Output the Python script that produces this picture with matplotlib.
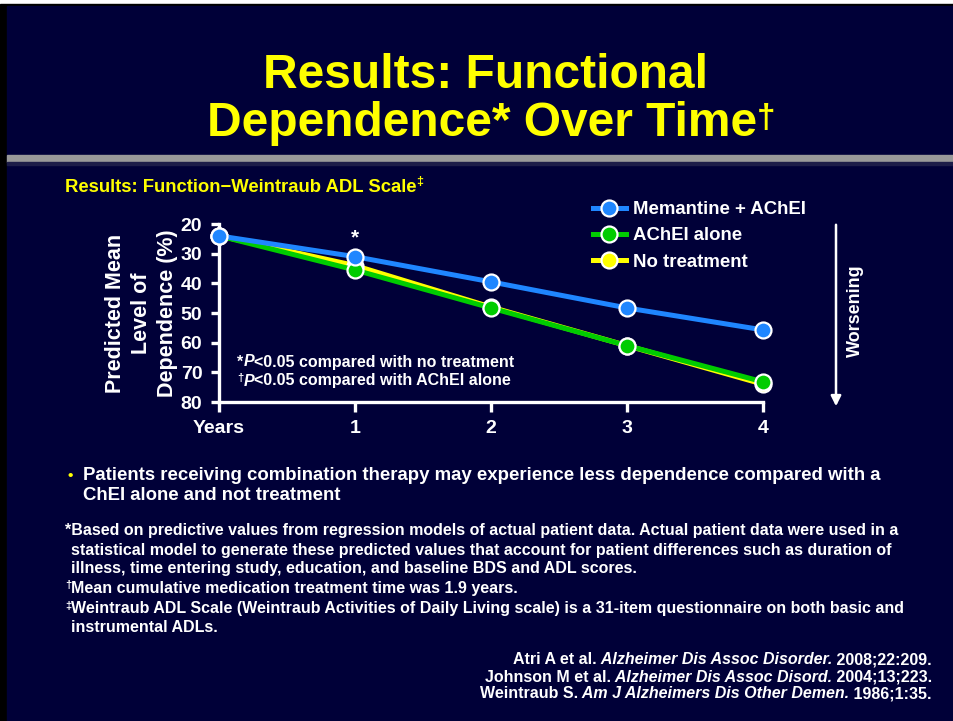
import matplotlib
matplotlib.use("Agg")
import matplotlib.pyplot as plt
from matplotlib.patches import Rectangle

plt.rcParams['font.family'] = ['Liberation Sans', 'DejaVu Sans']
plt.rcParams['font.weight'] = 'bold'

# data
years = [0, 1, 2, 3, 4]
year_labels = ['Years', '1', '2', '3', '4']
memantine_achei = [24, 31, 39.5, 48.3, 55.7]
achei_alone = [24, 35.5, 48.3, 61, 73.2]
no_treatment = [24, 34, 48, 61, 74]
y_ticks = [20, 30, 40, 50, 60, 70, 80]

NAVY = '#000038'
BLUE = '#1f86ff'
GREEN = '#00cc00'
YELLOW = '#ffff00'
W, H = 954, 721

fig = plt.figure(figsize=(W / 100, H / 100), dpi=100, facecolor='white')


def px(x, y):
    return x / W, 1 - y / H


# slide background
fig.patches.append(Rectangle((0, 0), 1, 1 - 4 / H, transform=fig.transFigure,
                             color='black', zorder=-3))
fig.patches.append(Rectangle((7 / W, 0), 1, 1 - 6 / H, transform=fig.transFigure,
                             color=NAVY, zorder=-2))
fig.patches.append(Rectangle(px(7, 162), 1, 7 / H, transform=fig.transFigure,
                             color='#999999', zorder=-1))
fig.patches.append(Rectangle(px(7, 165), 1, 3 / H, transform=fig.transFigure,
                             color='#1c1c48', zorder=-1))

renderer = fig.canvas.get_renderer()


def rich(x, y, parts, ha='left', size=10, color='white'):
    """draw text pieces with mixed styles side by side (x, y in pixels)"""
    texts = []
    for s, st in parts:
        st = dict(st)
        dy = st.pop('dy', 0)
        t = fig.text(0, 1 - (y - dy) / H, s, fontsize=st.pop('fontsize', size),
                     color=st.pop('color', color), va='center', ha='left', **st)
        texts.append(t)
    widths = [t.get_window_extent(renderer).width for t in texts]
    total = sum(widths)
    x0 = {'left': x, 'right': x - total, 'center': x - total / 2}[ha]
    for t, w in zip(texts, widths):
        t.set_x(x0 / W)
        x0 += w


# title
fig.text(*px(486, 76), 'Results: Functional', color=YELLOW, fontsize=34.5,
         ha='center', va='center')
rich(491, 123, [('Dependence* Over Time', {}),
                ('\u2020', {'fontsize': 24, 'dy': 4})],
     ha='center', size=34.5, color=YELLOW)

# subtitle
rich(65, 188, [('Results: Function\u2212Weintraub ADL Scale', {}),
               ('\u2021', {'fontsize': 9, 'dy': 6})], size=13.3, color=YELLOW)

# chart
ax = fig.add_axes([219 / W, 1 - 402 / H, (763 - 219) / W, (402 - 224) / H])
ax.set_facecolor('none')
style = dict(lw=3.6, marker='o', ms=11.5, mec='white', mew=1.6, clip_on=False)
ax.plot(years, no_treatment, color=YELLOW, mfc=YELLOW, zorder=3,
        label='No treatment', **style)
ax.plot(years, achei_alone, color=GREEN, mfc=GREEN, zorder=4,
        label='AChEI alone', **style)
ax.plot(years, memantine_achei, color=BLUE, mfc=BLUE, zorder=5,
        label='Memantine + AChEI', **style)
ax.set_xlim(0, 4)
ax.set_ylim(80, 20)
ax.set_xticks(years)
ax.set_xticklabels(year_labels)
ax.set_yticks(y_ticks)
for s in ['top', 'right']:
    ax.spines[s].set_visible(False)
for s in ['left', 'bottom']:
    ax.spines[s].set_color('white')
    ax.spines[s].set_linewidth(2.4)
ax.tick_params(colors='white', width=2.4, length=7, labelsize=14)
ax.tick_params(axis='x', pad=6)
ax.tick_params(axis='y', length=6, pad=6)
for lab in ax.get_xticklabels() + ax.get_yticklabels():
    lab.set_fontweight('bold')

ax.set_ylabel('Predicted Mean\nLevel of\nDependence (%)', color='white',
              fontsize=15.5, fontweight='bold', linespacing=1.3, labelpad=2)

h, l = ax.get_legend_handles_labels()
leg = ax.legend(h[::-1], l[::-1], loc='upper left', bbox_to_anchor=px(593, 201),
                bbox_transform=fig.transFigure, frameon=False, fontsize=13.4,
                handlelength=1.75, handletextpad=0.4, labelspacing=0.5,
                borderpad=0, borderaxespad=0)
for t in leg.get_texts():
    t.set_color('white')
    t.set_fontweight('bold')

ax.text(1, 24.8, '*', color='white', fontsize=15, ha='center', va='center')

rich(237, 362, [('*', {}), ('P', {'style': 'italic'}),
                ('<0.05 compared with no treatment', {})], size=11.5)
rich(237, 381, [('\u2020', {'fontsize': 8, 'dy': 3}), ('P', {'style': 'italic'}),
                ('<0.05 compared with AChEI alone', {})], size=11.5)

# worsening arrow
fig.add_artist(matplotlib.patches.FancyArrowPatch(
    px(836, 222), px(836, 409), transform=fig.transFigure, color='white',
    arrowstyle='-|>,head_length=6,head_width=3', lw=1.8))
fig.text(*px(855, 311), 'Worsening', color='white', fontsize=13,
         rotation=90, ha='center', va='center')

# bullet
fig.text(*px(70, 476), '\u2022', color=YELLOW, fontsize=11, ha='center', va='center')
fig.text(*px(83, 476), 'Patients receiving combination therapy may experience less '
         'dependence compared with a', color='white', fontsize=13.4, va='center')
fig.text(*px(83, 496), 'ChEI alone and not treatment', color='white',
         fontsize=13.4, va='center')

# footnotes
notes = [
    (65, 530, '*Based on predictive values from regression models of actual patient '
     'data. Actual patient data were used in a'),
    (71, 550, 'statistical model to generate these predicted values that account for '
     'patient differences such as duration of'),
    (71, 569, 'illness, time entering study, education, and baseline BDS and ADL scores.'),
    (71, 628, 'instrumental ADLs.'),
]
for x, y, s in notes:
    fig.text(*px(x, y), s, color='white', fontsize=11.5, va='center')
rich(65, 588, [('\u2020', {'fontsize': 8, 'dy': 3}),
               ('Mean cumulative medication treatment time was 1.9 years.', {})],
     size=11.5)
rich(65, 609, [('\u2021', {'fontsize': 8, 'dy': 3}),
               ('Weintraub ADL Scale (Weintraub Activities of Daily Living scale) is a '
                '31-item questionnaire on both basic and', {})], size=11.5)

# references
refs = [
    ('Atri A et al.', 'Alzheimer Dis Assoc Disorder.', '2008;22:209.'),
    ('Johnson M et al.', 'Alzheimer Dis Assoc Disord.', '2004;13;223.'),
    ('Weintraub S.', 'Am J Alzheimers Dis Other Demen.', '1986;1:35.'),
]
for i, (a, j, c) in enumerate(refs):
    rich(932, 660 + i * 17, [(a, {}), (' ' + j, {'style': 'italic'}), (' ' + c, {})],
         ha='right', size=11.5)

fig.savefig('out.png', dpi=100, facecolor=fig.get_facecolor())
